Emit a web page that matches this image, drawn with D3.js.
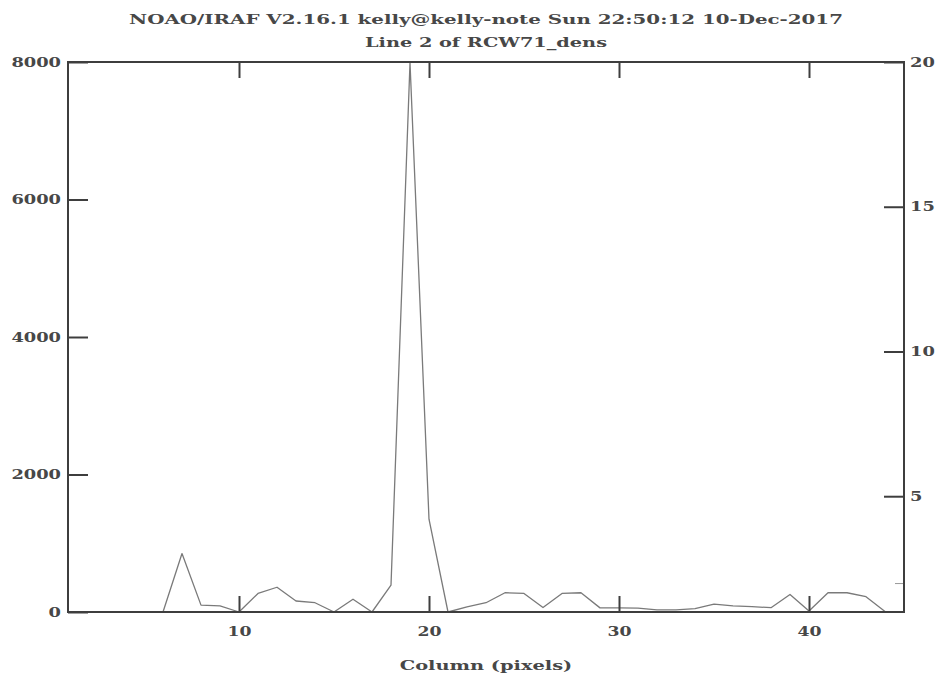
<!DOCTYPE html>
<html>
<head>
<meta charset="utf-8">
<script src="https://cdn.jsdelivr.net/npm/d3@7"></script>
<style>
  html, body { margin: 0; padding: 0; background: #ffffff; }
  svg { display: block; }
  text { font-family: "DejaVu Serif", serif; font-weight: bold; fill: #474747; }
</style>
</head>
<body>
<svg id="chart" width="938" height="679"></svg>
<script>
// ---- data ----
const columns = d3.range(1, 46); // 1..45
const values = [
  0, 0, 0, 0, 0,          // 1-5
  0, 850, 100, 90, 0,     // 6-10
  270, 360, 160, 135, 0,  // 11-15
  185, 0, 390, 7990, 1350,// 16-20
  0, 75, 135, 280, 270,   // 21-25
  65, 270, 280, 60, 60,   // 26-30
  55, 30, 30, 48, 115,    // 31-35
  88, 78, 63, 255, 15,    // 36-40
  280, 280, 222, 8, 0     // 41-45
];
const xTicks = [10, 20, 30, 40];
const yLeftTicks = [0, 2000, 4000, 6000, 8000];
const yRightTicks = [5, 10, 15, 20];
const yRightMinor = [2];
const titleLines = ["NOAO/IRAF V2.16.1 kelly@kelly-note Sun 22:50:12 10-Dec-2017", "Line 2 of RCW71_dens"];
const xLabel = "Column (pixels)";

// ---- layout ----
const L = 68, R = 904, T = 62, B = 612;
const svg = d3.select("#chart");
const x = d3.scaleLinear().domain([1, 45]).range([L, R]);
const y = d3.scaleLinear().domain([0, 8000]).range([B, T]);
const y2 = d3.scaleLinear().domain([1, 20]).range([B, T]);

// data line
const line = d3.line().x((d, i) => x(columns[i])).y(d => y(d));
svg.append("path")
  .datum(values)
  .attr("d", line)
  .attr("fill", "none")
  .attr("stroke", "#7a7a7a")
  .attr("stroke-width", 1.3)
  .attr("stroke-linejoin", "round");

// axes
const axStroke = "#3e3e3e";
function styleAxis(g, perChar) {
  g.select(".domain").remove();
  g.selectAll(".tick line").attr("stroke", axStroke).attr("stroke-width", 2);
  g.selectAll(".tick text").attr("font-size", 13).attr("fill", "#474747")
    .attr("font-family", "DejaVu Serif").attr("font-weight", "bold")
    .each(function() {
      const t = d3.select(this);
      if (perChar && t.text().length) t.attr("textLength", t.text().length * perChar).attr("lengthAdjust", "spacingAndGlyphs");
    });
}
const gb = svg.append("g").attr("transform", `translate(0,${B})`)
  .call(d3.axisBottom(x).tickValues(xTicks).tickSize(-16).tickPadding(15).tickFormat(d3.format("d")));
styleAxis(gb, 12);

const gt = svg.append("g").attr("transform", `translate(0,${T})`)
  .call(d3.axisTop(x).tickValues(xTicks).tickSize(-16).tickFormat(""));
styleAxis(gt, 0);

const gl = svg.append("g").attr("transform", `translate(${L},0)`)
  .call(d3.axisLeft(y).tickValues(yLeftTicks).tickSize(-20).tickPadding(7).tickFormat(d3.format("d")));
styleAxis(gl, 12.4);

const gr = svg.append("g").attr("transform", `translate(${R},0)`)
  .call(d3.axisRight(y2).tickValues(yRightTicks).tickSize(-20).tickPadding(6).tickFormat(d3.format("d")));
styleAxis(gr, 12.4);
const grm = svg.append("g").attr("transform", `translate(${R},0)`)
  .call(d3.axisRight(y2).tickValues(yRightMinor).tickSize(-9).tickFormat(""));
grm.select(".domain").remove();
grm.selectAll(".tick line").attr("stroke", "#999").attr("stroke-width", 1);

// frame
svg.append("rect")
  .attr("x", L).attr("y", T).attr("width", R - L).attr("height", B - T)
  .attr("fill", "none").attr("stroke", axStroke).attr("stroke-width", 2);

// titles
const cx = (L + R) / 2;
svg.selectAll("text.title").data(titleLines).enter().append("text")
  .attr("class", "title")
  .attr("x", cx).attr("y", (d, i) => 24 + i * 22.5)
  .attr("text-anchor", "middle")
  .attr("font-size", 13)
  .attr("textLength", d => d.length * 12.1)
  .attr("lengthAdjust", "spacingAndGlyphs")
  .text(d => d);

svg.append("text")
  .attr("x", cx).attr("y", 670)
  .attr("text-anchor", "middle")
  .attr("font-size", 13)
  .attr("textLength", xLabel.length * 11.5)
  .attr("lengthAdjust", "spacingAndGlyphs")
  .text(xLabel);
</script>
</body>
</html>
